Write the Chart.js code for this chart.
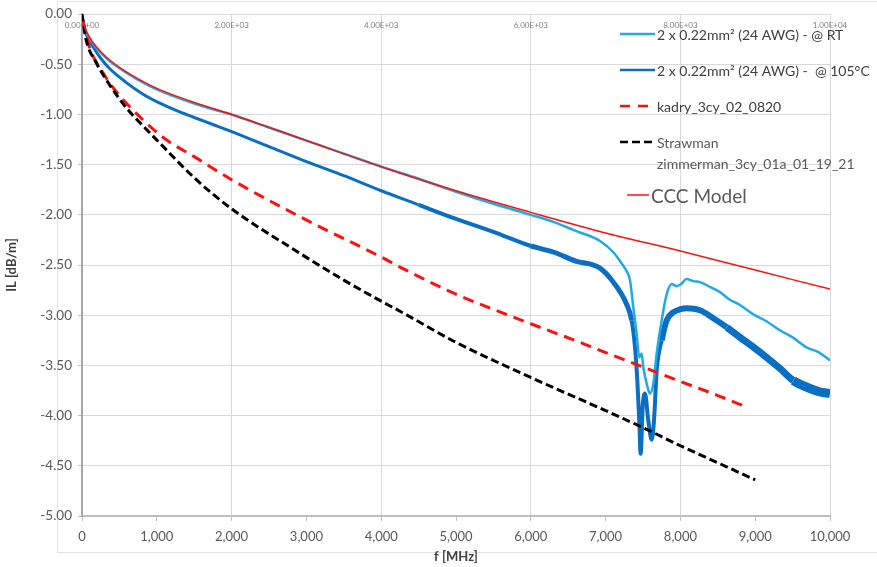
<!DOCTYPE html>
<html>
<head>
<meta charset="utf-8">
<script src="https://cdn.jsdelivr.net/npm/chart.js@4"></script>
<style>
  html, body { margin: 0; padding: 0; background: #fff; }
  #contenedor { position: relative; width: 877px; height: 567px; }
  #marco { position: absolute; left: 57px; top: 1px; width: 840px; height: 552px; border: 1px solid #e4e4e4; box-sizing: border-box; }
  canvas { position: absolute; left: 0; top: 0; }
</style>
</head>
<body>
<div id="contenedor">
  <div id="marco"></div>
  <canvas id="grafico" width="877" height="567"></canvas>
</div>
<script>
// Datos (f en MHz, IL en dB/m)
const frecRT = [10, 50, 143, 250, 365, 500, 750, 1000, 1250, 1500, 1750, 2000, 2500, 3000, 3500, 4000, 4500, 5000, 5500, 6000, 6300, 6600, 6925, 7100, 7193, 7280, 7326, 7370, 7415, 7450, 7482, 7504, 7549, 7594, 7638, 7683, 7750, 7817, 7884, 7950, 8008, 8084, 8170, 8262, 8400, 8529, 8650, 8800, 8974, 9150, 9332, 9500, 9688, 9850, 10000];
const ilRT = [-0.06, -0.17, -0.29, -0.385, -0.465, -0.54, -0.655, -0.75, -0.825, -0.89, -0.948, -1.00, -1.13, -1.26, -1.39, -1.52, -1.64, -1.77, -1.89, -2.00, -2.07, -2.16, -2.26, -2.37, -2.46, -2.56, -2.65, -2.92, -3.18, -3.42, -3.38, -3.52, -3.68, -3.78, -3.68, -3.38, -3.05, -2.79, -2.69, -2.71, -2.69, -2.64, -2.66, -2.67, -2.72, -2.77, -2.84, -2.90, -2.99, -3.06, -3.15, -3.22, -3.32, -3.37, -3.45];

const frec105 = [10, 50, 143, 250, 365, 588, 811, 1034, 1257, 1500, 1750, 2000, 2500, 3000, 3500, 4000, 4251, 4500, 5000, 5500, 6000, 6300, 6600, 6925, 7103, 7281, 7348, 7393, 7424, 7450, 7469, 7496, 7526, 7571, 7616, 7647, 7683, 7750, 7817, 7906, 8000, 8084, 8262, 8440, 8620, 8797, 8980, 9153, 9330, 9509, 9700, 9850, 10000];
const il105 = [-0.07, -0.19, -0.32, -0.44, -0.54, -0.68, -0.795, -0.885, -0.96, -1.03, -1.10, -1.17, -1.32, -1.47, -1.61, -1.76, -1.83, -1.90, -2.04, -2.17, -2.31, -2.37, -2.46, -2.53, -2.67, -2.89, -3.05, -3.32, -3.65, -4.05, -4.38, -3.91, -3.78, -4.05, -4.24, -4.05, -3.55, -3.25, -3.05, -2.97, -2.94, -2.93, -2.95, -3.03, -3.12, -3.22, -3.32, -3.42, -3.53, -3.65, -3.72, -3.76, -3.78];

const frecKadry = [10, 100, 276, 455, 811, 1123, 1500, 2000, 3048, 4000, 4251, 5000, 6000, 6658, 6925, 7500, 8000, 8500, 8904];
const ilKadry = [-0.06, -0.33, -0.58, -0.77, -1.05, -1.25, -1.42, -1.65, -2.07, -2.42, -2.52, -2.79, -3.085, -3.27, -3.35, -3.515, -3.66, -3.80, -3.92];

const frecStrawman = [0, 53, 187, 365, 588, 811, 1034, 1500, 2000, 2821, 3500, 4000, 4251, 5000, 6000, 7000, 7500, 8000, 8500, 9000];
const ilStrawman = [0, -0.25, -0.48, -0.70, -0.93, -1.11, -1.28, -1.63, -1.94, -2.34, -2.65, -2.86, -2.96, -3.27, -3.62, -3.95, -4.12, -4.30, -4.47, -4.64];

const frecCCC = [10, 50, 143, 250, 365, 500, 750, 1000, 1250, 1500, 1750, 2000, 3000, 4000, 5000, 6000, 7000, 8000, 9000, 10000];
const ilCCC = [-0.07, -0.16, -0.28, -0.375, -0.455, -0.53, -0.645, -0.74, -0.815, -0.88, -0.94, -1.00, -1.26, -1.52, -1.76, -1.975, -2.18, -2.36, -2.55, -2.74];

const nombres = ["2 x 0.22mm² (24 AWG) - @ RT", "2 x 0.22mm² (24 AWG) -  @ 105°C", "kadry_3cy_02_0820", "Strawman", "zimmerman_3cy_01a_01_19_21", "CCC Model"];

const AZUL_CLARO = "#22a9e4";
const AZUL = "#0a6fc2";
const ROJO = "#ff1010";
const NEGRO = "#000000";

function puntos(xs, ys) {
  return xs.map((x, i) => ({ x: x, y: ys[i] }));
}

function formatoCientifico(v) {
  if (v === 0) return "0.00E+00";
  const e = Math.floor(Math.log10(v));
  const m = v / Math.pow(10, e);
  return m.toFixed(2) + "E+" + String(e).padStart(2, "0");
}

// Grosor variable para la curva ruidosa de 105°C
function grosor105(c) {
  const f = c.p0.parsed.x;
  if (f >= 9400) return 9;
  if (f >= 8600) return 7;
  if (f >= 7750) return 6;
  if (f >= 7300) return 4;
  if (f >= 6000) return 5;
  if (f >= 4500) return 4;
  return 3;
}

// Leyenda dibujada dentro del área del gráfico
const leyenda = {
  id: "leyenda",
  afterDraw(chart) {
    const ctx = chart.ctx;
    ctx.save();
    ctx.textBaseline = "middle";
    ctx.textAlign = "left";
    ctx.lineCap = "butt";

    function linea(x1, x2, y, color, ancho, dash) {
      ctx.beginPath();
      ctx.setLineDash(dash);
      ctx.strokeStyle = color;
      ctx.lineWidth = ancho;
      ctx.moveTo(x1, y);
      ctx.lineTo(x2, y);
      ctx.stroke();
    }

    linea(620, 655, 34, AZUL_CLARO, 2.5, []);
    linea(620, 655, 70, AZUL, 2.5, []);
    linea(620, 654, 106, ROJO, 2.5, [10, 8]);
    linea(620, 654, 142, NEGRO, 2.5, [8, 4]);
    linea(627, 649, 195, ROJO, 1.5, []);
    ctx.setLineDash([]);

    ctx.font = "14px Lato";
    ctx.fillStyle = "#404040";
    ctx.fillText(nombres[0], 657, 35);
    ctx.fillText(nombres[1], 657, 71);
    ctx.fillText(nombres[2], 657, 107);
    ctx.fillStyle = "#595959";
    ctx.fillText(nombres[3], 657, 143);
    ctx.fillText(nombres[4], 657, 164);
    ctx.font = "19px Lato";
    ctx.fillText(nombres[5], 651, 197);
    ctx.restore();
  }
};

const ctx = document.getElementById("grafico").getContext("2d");

new Chart(ctx, {
  type: "line",
  data: {
    datasets: [
      { label: nombres[0], data: puntos(frecRT, ilRT), borderColor: AZUL_CLARO, borderWidth: 2.5, order: 4 },
      { label: nombres[1], data: puntos(frec105, il105), borderColor: AZUL, borderWidth: 3, order: 5, segment: { borderWidth: grosor105 } },
      { label: nombres[2], data: puntos(frecKadry, ilKadry), borderColor: ROJO, borderWidth: 3, borderDash: [11, 7], order: 3 },
      { label: nombres[3] + " " + nombres[4], data: puntos(frecStrawman, ilStrawman), borderColor: NEGRO, borderWidth: 3, borderDash: [8, 4], order: 2 },
      { label: nombres[5], data: puntos(frecCCC, ilCCC), borderColor: ROJO, borderWidth: 1.5, order: 1 }
    ]
  },
  options: {
    responsive: false,
    animation: false,
    devicePixelRatio: 1,
    layout: { padding: { top: 13, right: 47, left: 0, bottom: 0 } },
    elements: {
      point: { radius: 0 },
      line: { cubicInterpolationMode: "monotone", borderJoinStyle: "round" }
    },
    plugins: {
      legend: { display: false },
      tooltip: { enabled: false }
    },
    scales: {
      x: {
        type: "linear",
        position: "bottom",
        min: 0,
        max: 10000,
        afterFit: s => { s.height = 51; },
        ticks: {
          stepSize: 1000,
          padding: 8,
          color: "#595959",
          font: { family: "Lato", size: 13 },
          callback: v => v.toLocaleString("en-US")
        },
        grid: {
          color: c => (c.tick && c.tick.value % 2000 === 0) ? "#d9d9d9" : "rgba(0,0,0,0)",
          tickColor: "#bfbfbf",
          tickLength: 5
        },
        border: { color: "#bfbfbf", width: 2 },
        title: {
          display: true,
          text: "f [MHz]",
          color: "#404040",
          font: { family: "Lato", size: 13, weight: "bold" },
          padding: { top: 0, bottom: 2 }
        }
      },
      x2: {
        type: "linear",
        position: "top",
        min: 0,
        max: 10000,
        afterFit: s => { s.height = 0; },
        ticks: {
          stepSize: 2000,
          mirror: true,
          padding: 7,
          color: "#808080",
          font: { family: "Lato", size: 8 },
          callback: v => formatoCientifico(v)
        },
        grid: { display: false },
        border: { display: false }
      },
      y: {
        min: -5,
        max: 0,
        afterFit: s => { s.width = 82; },
        ticks: {
          stepSize: 0.5,
          padding: 6,
          color: "#595959",
          font: { family: "Lato", size: 13.5 },
          callback: v => v.toFixed(2)
        },
        grid: { color: "#d9d9d9", tickColor: "#bfbfbf", tickLength: 4 },
        border: { color: "#a6a6a6", width: 2 },
        title: {
          display: true,
          text: "IL [dB/m]",
          color: "#404040",
          font: { family: "Lato", size: 13, weight: "bold" },
          padding: { top: 4, bottom: 0 }
        }
      }
    }
  },
  plugins: [leyenda]
});
</script>
</body>
</html>
